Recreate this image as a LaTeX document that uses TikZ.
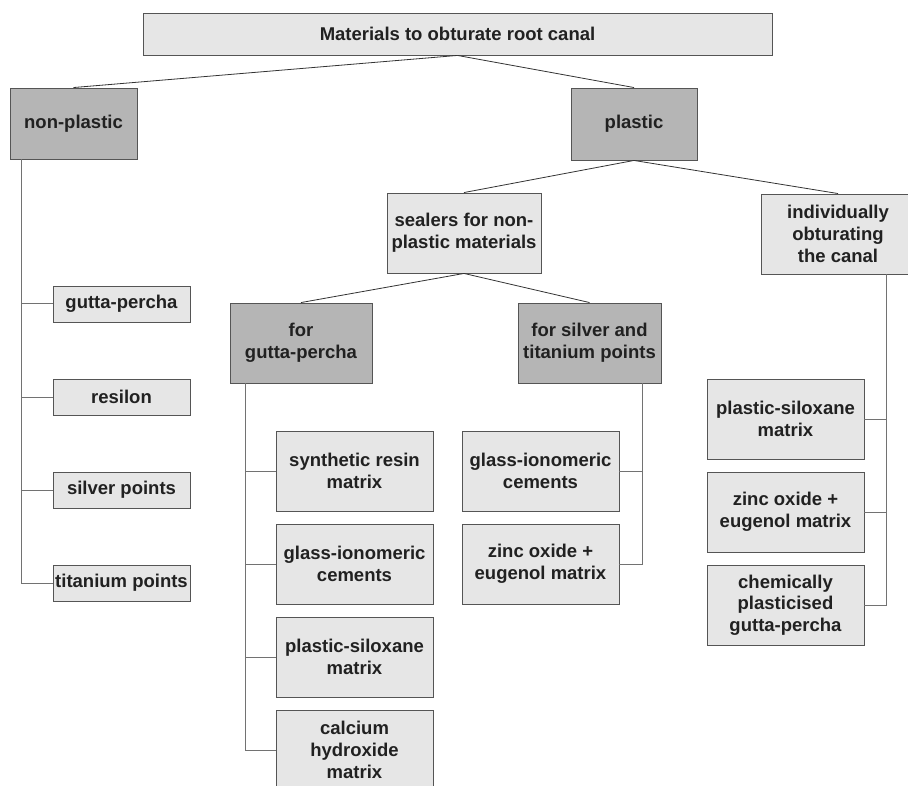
\documentclass[tikz,border=0pt]{standalone}
\usepackage{fontspec}
\setmainfont{Liberation Sans}
\usetikzlibrary{positioning}

\definecolor{boxlight}{HTML}{E6E6E6}
\definecolor{boxdark}{HTML}{B5B5B5}
\definecolor{edgegray}{HTML}{555555}
\definecolor{trunkgray}{HTML}{727272}

\tikzset{
  boxbase/.style={draw=edgegray, line width=0.9pt, align=center, inner sep=0pt,
    font=\bfseries\fontsize{18.5}{21.7}\selectfont, text=black!87},
  lightbox/.style={boxbase, fill=boxlight},
  darkbox/.style={boxbase, fill=boxdark},
  itembox/.style={lightbox, minimum width=157pt, minimum height=80pt},
  branch/.style={draw=black!80, line width=0.8pt},
  trunk/.style={draw=trunkgray, line width=1pt},
}

\begin{document}
\begin{tikzpicture}[x=1pt, y=-1pt, node distance=93pt, on grid]
    \useasboundingbox (0,0) rectangle (908,786);
    \node[lightbox, minimum width=629pt, minimum height=42pt] (root) at (457.5,34) {Materials to obturate root canal};
    \node[darkbox, minimum width=127pt, minimum height=71pt] (nonpl) at (73.5,123.5) {non-plastic};
    \node[darkbox, minimum width=126pt, minimum height=72pt] (pl) at (634,124) {plastic};
    \node[lightbox, minimum width=154pt, minimum height=80pt] (seal) at (464,233) {sealers for non-\\plastic materials};
    \node[lightbox, minimum width=154pt, minimum height=80pt] (indiv) at (838,234) {individually\\obturating\\the canal};
    \node[darkbox, minimum width=142pt, minimum height=80pt] (forgp) at (301,343) {for\\gutta-percha};
    \node[darkbox, minimum width=143pt, minimum height=80pt] (forst) at (589.5,343) {for silver and\\titanium points};

    % non-plastic materials
    \begin{scope}[every node/.style={lightbox, minimum width=137pt, minimum height=36pt}]
    \node (gp) at (121.5,304) {gutta-percha};
    \node (res) [below=of gp] {resilon};
    \node (sil) [below=of res] {silver points};
    \node (ti) [below=of sil] {titanium points};
    \end{scope}

    % sealers for gutta-percha
    \node[itembox] (sr) at (354.5,471) {synthetic resin\\matrix};
    \node[itembox] (gi) [below=of sr] {glass-ionomeric\\cements};
    \node[itembox] (ps) [below=of gi] {plastic-siloxane\\matrix};
    \node[itembox] (ch) [below=of ps] {calcium\\hydroxide\\matrix};

    % sealers for silver and titanium points
    \node[itembox] (gist) at (540.5,471) {glass-ionomeric\\cements};
    \node[itembox] (zost) [below=of gist] {zinc oxide +\\eugenol matrix};

    % individually obturating
    \node[itembox] (psin) at (785.5,419) {plastic-siloxane\\matrix};
    \node[itembox] (zoin) [below=of psin] {zinc oxide +\\eugenol matrix};
    \node[itembox] (cpin) [below=of zoin] {chemically\\plasticised\\gutta-percha};

    \draw[branch] (root.south) -- (nonpl.north);
    \draw[branch] (root.south) -- (pl.north);
    \draw[branch] (pl.south) -- (seal.north);
    \draw[branch] (pl.south) -- (indiv.north);
    \draw[branch] (seal.south) -- (forgp.north);
    \draw[branch] (seal.south) -- (forst.north);

    \foreach \c in {gp,res,sil,ti}
        \draw[trunk] ([xshift=12pt]nonpl.south west) |- (\c.west);
    \foreach \c in {sr,gi,ps,ch}
        \draw[trunk] ([xshift=16pt]forgp.south west) |- (\c.west);
    \foreach \c in {gist,zost}
        \draw[trunk] ([xshift=-19pt]forst.south east) |- (\c.east);
    \foreach \c in {psin,zoin,cpin}
        \draw[trunk] ([xshift=-29pt]indiv.south east) |- (\c.east);
\end{tikzpicture}
\end{document}
